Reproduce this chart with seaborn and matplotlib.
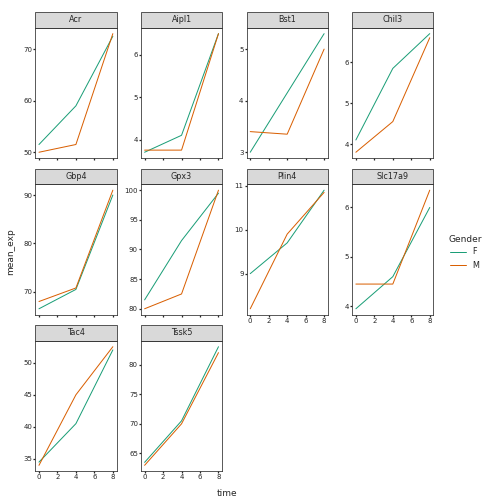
import matplotlib
matplotlib.use("Agg")
import matplotlib.pyplot as plt
from matplotlib.patches import Rectangle
from matplotlib.ticker import MaxNLocator
import pandas as pd
import seaborn as sns

genes = ['Acr', 'Aipl1', 'Bst1', 'Chil3', 'Gbp4', 'Gpx3', 'Plin4', 'Slc17a9', 'Tac4', 'Tssk5']
times = [0, 4, 8]
f_vals = [[51.5, 59.0, 72.5], [3.7, 4.1, 6.5], [3.0, 4.15, 5.3], [4.1, 5.85, 6.7],
          [66.5, 70.5, 90.0], [81.5, 91.5, 99.5], [9.0, 9.7, 10.9], [3.95, 4.6, 6.0],
          [34.5, 40.5, 52.0], [63.5, 70.5, 83.0]]
m_vals = [[50.0, 51.5, 73.0], [3.75, 3.75, 6.5], [3.4, 3.35, 5.0], [3.8, 4.55, 6.6],
          [68.0, 70.8, 91.0], [80.0, 82.5, 100.0], [8.2, 9.9, 10.85], [4.45, 4.45, 6.35],
          [34.0, 45.0, 52.5], [63.0, 70.0, 82.0]]

rows = []
for g, fv, mv in zip(genes, f_vals, m_vals):
    for t, a, b in zip(times, fv, mv):
        rows.append((g, t, a, 'F'))
        rows.append((g, t, b, 'M'))
df = pd.DataFrame(rows, columns=['gene', 'time', 'mean_exp', 'Gender'])

sns.set_theme(style='white', rc={'font.size': 8, 'axes.labelsize': 9,
                                 'xtick.labelsize': 7, 'ytick.labelsize': 7,
                                 'legend.fontsize': 8, 'legend.title_fontsize': 9})
g = sns.relplot(data=df, x='time', y='mean_exp', hue='Gender', col='gene', col_wrap=4,
                kind='line', palette=['#1b9e77', '#d95f02'], linewidth=1,
                facet_kws={'sharey': False, 'sharex': True, 'despine': False},
                height=1.55, aspect=0.78)
g.set_titles('')
for ax, name in zip(g.axes.flat, genes):
    for s in ax.spines.values():
        s.set_color('#333333')
        s.set_linewidth(0.8)
    ax.set_xticks([0, 2, 4, 6, 8])
    ax.set_xlim(-0.4, 8.4)
    ax.yaxis.set_major_locator(MaxNLocator(nbins=5, steps=[1, 2, 5, 10]))
    ax.tick_params(length=2, pad=1, left=True, bottom=True)
    ax.add_patch(Rectangle((0, 1.0), 1, 0.12, transform=ax.transAxes, clip_on=False,
                           fc='#d9d9d9', ec='#333333', lw=0.8))
    ax.text(0.5, 1.06, name, transform=ax.transAxes, ha='center', va='center', fontsize=8)
    ax.set_xlabel('')
    ax.set_ylabel('')
g.fig.text(0.45, 0.015, 'time', ha='center', fontsize=9)
g.fig.text(0.012, 0.5, 'mean_exp', va='center', rotation=90, fontsize=9)
sns.move_legend(g, 'center right', frameon=False, title='Gender', bbox_to_anchor=(0.97, 0.5))
g.fig.set_size_inches(7, 7)
g.fig.subplots_adjust(left=0.07, right=0.86, bottom=0.065, top=0.945, wspace=0.3, hspace=0.2)
g.fig.savefig('out.png', dpi=72)
